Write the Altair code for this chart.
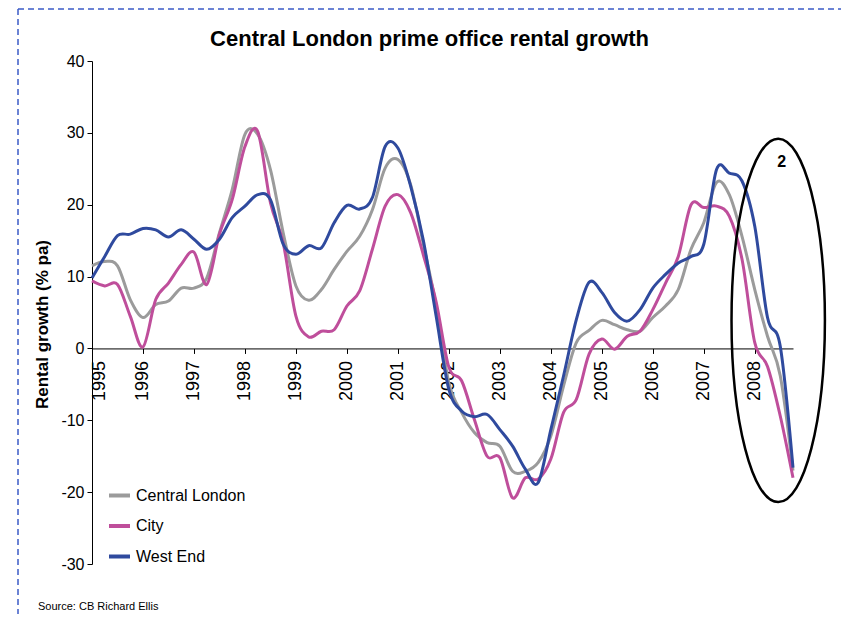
import altair as alt
import pandas as pd

# ---------------- data ----------------
title_text = "Central London prime office rental growth"
y_title = "Rental growth (% pa)"
source_text = "Source: CB Richard Ellis"
series_names = ["Central London", "City", "West End"]
series_colors = ["#9B9B9B", "#BF4E9B", "#2F4A9E"]

# quarterly time index 1995 Q1 .. 2008 Q4
first_year = 1995
n_quarters = 56
year_labels = [str(y) for y in range(1995, 2009)]

central_london = [11.5, 12.1, 11.5, 6.8, 4.3, 6.1, 6.6, 8.4, 8.4, 9.8, 16.1, 22.1, 29.8, 29.8,
                  24.9, 16.1, 8.7, 6.7, 8.2, 11.0, 13.5, 15.6, 19.3, 25.1, 26.3, 22.8, 14.5, 6.0,
                  -4.8, -8.9, -11.7, -13.1, -13.6, -17.1, -17.1, -15.9, -12.2, -5.2, 0.8, 2.5,
                  3.9, 3.3, 2.6, 2.4, 4.3, 5.9, 8.2, 13.8, 17.5, 23.1, 21.4, 15.6, 8.2, 1.7, -3.8, -17.0]
city = [9.4, 8.7, 8.9, 4.5, 0.2, 6.8, 9.1, 11.7, 13.4, 8.9, 15.9, 20.7, 28.1, 30.2,
        20.3, 14.7, 4.5, 1.6, 2.4, 2.6, 5.9, 8.0, 13.8, 19.8, 21.4, 18.9, 13.0, 6.5,
        -2.6, -4.5, -9.9, -15.0, -15.2, -20.8, -18.0, -18.2, -15.4, -8.9, -7.1, -0.8,
        1.3, -0.1, 1.7, 2.4, 5.4, 9.1, 12.8, 20.0, 19.6, 19.8, 18.4, 12.4, 0.8, -2.5, -9.4, -18.0]
west_end = [9.8, 12.8, 15.7, 15.9, 16.7, 16.5, 15.5, 16.5, 15.2, 13.8, 15.2, 18.2, 19.8, 21.4,
            20.7, 14.5, 13.1, 14.3, 14.0, 17.5, 19.9, 19.4, 21.0, 28.1, 27.9, 22.6, 15.0, 4.5,
            -5.7, -8.7, -9.5, -9.2, -11.3, -13.6, -16.8, -18.7, -11.3, -3.8, 4.0, 9.2,
            7.8, 5.0, 3.8, 5.4, 8.4, 10.3, 11.9, 12.8, 14.5, 24.9, 24.4, 23.3, 17.0, 4.3, 0.3, -16.6]

# annotation: ellipse round 2008 and its number
ellipse_t = [2008.46]
ellipse_v = [3.9]
note_t = [2008.53]
note_v = [26.0]
note_text = ["2"]

# ---------------- build tables ----------------
quarters = [first_year + q / 4 for q in range(n_quarters)]
rows = []
for name, vals in zip(series_names, [central_london, city, west_end]):
    for t, v in zip(quarters, vals):
        rows.append({"t": t, "v": v, "series": name})
df = pd.DataFrame(rows)
ell_df = pd.DataFrame({"t": ellipse_t, "v": ellipse_v})
note_df = pd.DataFrame({"t": note_t, "v": note_v, "label": note_text})
one = pd.DataFrame({"k": [0]})

FONT = "Liberation Sans"
W, H = 701, 503
Y_MIN, Y_MAX = -30, 40
x_axis_offset = -H * (0 - Y_MIN) / (Y_MAX - Y_MIN)

x_scale = alt.Scale(domain=[quarters[0], quarters[-1]], nice=False, zero=False)
y_scale = alt.Scale(domain=[Y_MIN, Y_MAX], nice=False)

lines = alt.Chart(df).mark_line(strokeWidth=3, interpolate="cardinal").encode(
    x=alt.X("t:Q", scale=x_scale, axis=alt.Axis(
        values=quarters,
        labelExpr="datum.value % 1 === 0 ? '' + datum.value : ''",
        labelAngle=270, labelFontSize=18, labelFont=FONT, labelPadding=7,
        labelOverlap=False, labelFlush=False, labelColor="black",
        labelOffset={"condition": {"test": "datum.value === 1995", "value": 7}, "value": 0},
        tickSize=5, tickColor="black", domainColor="black", grid=False,
        offset=x_axis_offset, title=None)),
    y=alt.Y("v:Q", scale=y_scale, axis=alt.Axis(
        values=list(range(Y_MIN, Y_MAX + 1, 10)), labelExpr="'' + datum.value",
        labelFontSize=16, labelFont=FONT,
        labelPadding=3, labelColor="black", tickSize=5, tickColor="black",
        domainColor="black", grid=False, title=y_title, titleFont=FONT,
        titleFontSize=17, titleFontWeight="bold", titleColor="black",
        titleAngle=270, titleX=-50, titleY=263, titleAlign="center",
        titleBaseline="middle")),
    color=alt.Color("series:N", scale=alt.Scale(domain=series_names, range=series_colors),
                    legend=alt.Legend(title=None, orient="none", legendX=15, legendY=422,
                                      symbolType="stroke", symbolStrokeWidth=4,
                                      symbolSize=441, labelFontSize=16, labelFont=FONT,
                                      labelColor="black", rowPadding=9.5, padding=0,
                                      labelOffset=4)),
)

ELLIPSE_PATH = "M0,-1 A0.257,1 0 1 1 0,1 A0.257,1 0 1 1 0,-1 Z"
ellipse = alt.Chart(ell_df).mark_point(
    shape=ELLIPSE_PATH, filled=False, stroke="black", strokeWidth=2.5,
    size=(2 * 181.7) ** 2, opacity=1
).encode(x="t:Q", y="v:Q")

note = alt.Chart(note_df).mark_text(font=FONT, fontSize=16, fontWeight="bold",
                                    color="black").encode(x="t:Q", y="v:Q", text="label:N")

source = alt.Chart(one).mark_text(text=source_text, font=FONT, fontSize=11, color="black",
                                  align="left", baseline="middle").encode(
    x=alt.value(-54), y=alt.value(546))

border_top = alt.Chart(one).mark_rule(color="#3B5BC8", strokeWidth=1.5, strokeDash=[6, 4]).encode(
    x=alt.value(-74), x2=alt.value(760), y=alt.value(-52))
border_left = alt.Chart(one).mark_rule(color="#3B5BC8", strokeWidth=1.5, strokeDash=[6, 4]).encode(
    x=alt.value(-74), y=alt.value(-52), y2=alt.value(562))

chart = alt.layer(lines, ellipse, note, source, border_top, border_left).properties(
    width=W, height=H,
    title=alt.TitleParams(title_text, font=FONT, fontSize=22, fontWeight="bold",
                          color="black", anchor="middle", dx=-13, offset=-43),
    autosize=alt.AutoSizeParams(type="none"),
    padding={"left": 84, "top": 53, "right": 48, "bottom": 50},
).configure(background="white").configure_view(stroke=None)

chart.save("out.html", embed_options={"renderer": "svg", "actions": False})
